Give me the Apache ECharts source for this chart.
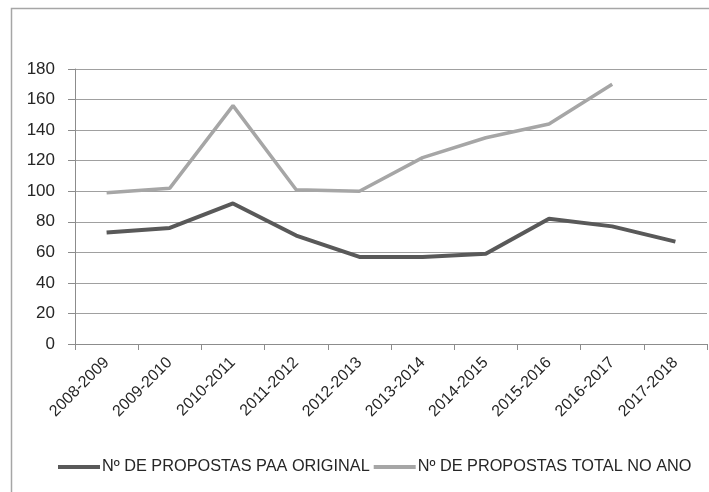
<!DOCTYPE html>
<html>
<head>
<meta charset="utf-8">
<script src="https://cdn.jsdelivr.net/npm/echarts@6/dist/echarts.min.js"></script>
<style>html,body{margin:0;padding:0;background:#fff}#c{width:709px;height:492px}</style>
</head>
<body>
<div id="c"></div>
<script>
var categories = ['2008-2009','2009-2010','2010-2011','2011-2012','2012-2013','2013-2014','2014-2015','2015-2016','2016-2017','2017-2018'];
var paaOriginal = [73, 76, 92, 71, 57, 57, 59, 82, 77, 67];
var totalNoAno = [99, 102, 156, 101, 100, 122, 135, 144, 170, null];
var yTicks = [0, 20, 40, 60, 80, 100, 120, 140, 160, 180];
var seriesNames = ['Nº DE PROPOSTAS PAA ORIGINAL', 'Nº DE PROPOSTAS TOTAL NO ANO'];

var font = '"Liberation Sans", Arial, sans-serif';
var chart = echarts.init(document.getElementById('c'), null, {renderer: 'canvas'});
chart.setOption({
  animation: false,
  backgroundColor: '#fff',
  graphic: [{
    type: 'rect', z: -1,
    shape: {x: 11.5, y: 8.5, width: 720, height: 600},
    style: {fill: 'none', stroke: '#a6a6a6', lineWidth: 1.5}
  }],
  grid: {left: 75, right: 2, top: 69, bottom: 148},
  legend: {
    left: 53, top: 454,
    itemWidth: 42, itemHeight: 4, itemGap: 4,
    icon: 'rect',
    textStyle: {fontFamily: font, fontSize: 16.3, color: '#262626', padding: [0,0,0,-3]},
    data: seriesNames
  },
  xAxis: {
    type: 'category',
    data: categories,
    boundaryGap: true,
    axisLine: {lineStyle: {color: '#8c8c8c', width: 1}},
    axisTick: {show: true, length: 6, interval: 0, lineStyle: {color: '#8c8c8c'}},
    axisLabel: {rotate: 45, interval: 0, margin: 16, fontFamily: font, fontSize: 16, color: '#262626'}
  },
  yAxis: {
    type: 'value',
    min: 0, max: 180, interval: 20,
    axisLine: {show: true, lineStyle: {color: '#8c8c8c', width: 1}},
    axisTick: {show: true, length: 7, lineStyle: {color: '#8c8c8c'}},
    splitLine: {lineStyle: {color: '#a0a0a0', width: 1}},
    axisLabel: {margin: 20, fontFamily: font, fontSize: 17, color: '#262626',
      formatter: function (v) { return yTicks.indexOf(v) >= 0 ? String(v) : ''; }}
  },
  series: [
    {name: seriesNames[0], type: 'line', data: paaOriginal, symbol: 'none',
     lineStyle: {color: '#595959', width: 4}, itemStyle: {color: '#595959'}},
    {name: seriesNames[1], type: 'line', data: totalNoAno, symbol: 'none',
     lineStyle: {color: '#a6a6a6', width: 3.5}, itemStyle: {color: '#a6a6a6'}}
  ]
});
</script>
</body>
</html>
